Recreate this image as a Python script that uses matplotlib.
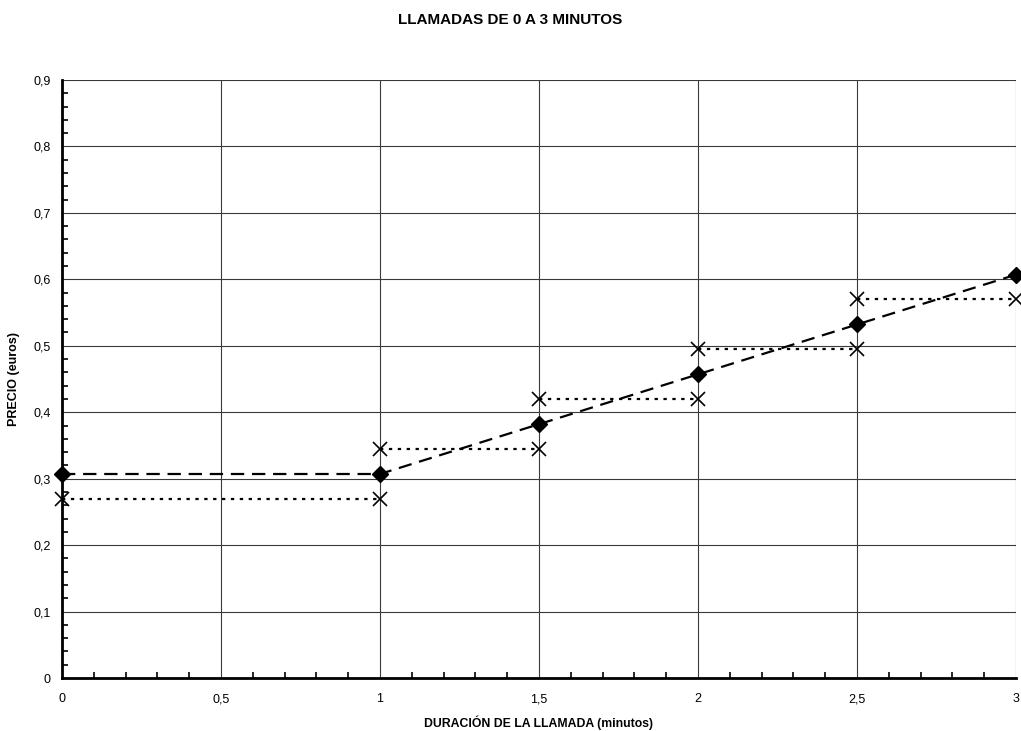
#!/usr/bin/env python3
"""Precio de llamadas de 0 a 3 minutos."""

import matplotlib

matplotlib.use("Agg")
import matplotlib.pyplot as plt
from matplotlib.ticker import FixedLocator, FuncFormatter, MultipleLocator

# tarifa con establecimiento + por segundo (diamantes)
dur_a = [0, 1, 1.5, 2, 2.5, 3]
price_a = [0.307, 0.307, 0.382, 0.457, 0.532, 0.607]

# tarifa por tramos de medio minuto (cruces)
step_start = [0, 1, 1.5, 2, 2.5]
step_end = [1, 1.5, 2, 2.5, 3]
step_price = [0.27, 0.345, 0.42, 0.495, 0.57]

x_ticks = [0, 0.5, 1, 1.5, 2, 2.5, 3]
y_ticks = [0, 0.1, 0.2, 0.3, 0.4, 0.5, 0.6, 0.7, 0.8, 0.9]

plt.rcParams["font.family"] = ["Liberation Sans", "DejaVu Sans"]

fig = plt.figure(figsize=(10.21, 7.31), dpi=100)
ax = fig.add_axes([0.0607, 0.0725, 0.9344, 0.8181])

for xs, xe, p in zip(step_start, step_end, step_price):
    ax.plot([xs, xe], [p, p], color="black", lw=1.6, ls=(0, (1.5, 2.5)),
            marker="x", ms=10, mew=1.2, zorder=3, clip_on=False)

ax.plot(dur_a, price_a, color="black", lw=1.6, ls=(0, (6, 3.5)),
        marker="D", ms=8, zorder=4, clip_on=False)

ax.set_xlim(0, 3)
ax.set_ylim(0, 0.9)
ax.xaxis.set_major_locator(FixedLocator(x_ticks))
ax.yaxis.set_major_locator(FixedLocator(y_ticks))
ax.xaxis.set_minor_locator(MultipleLocator(0.1))
ax.yaxis.set_minor_locator(MultipleLocator(0.02))
fmt = FuncFormatter(lambda v, _: f"{v:g}".replace(".", ","))
ax.xaxis.set_major_formatter(fmt)
ax.yaxis.set_major_formatter(fmt)

ax.grid(True, which="major", color="#3a3a3a", lw=0.8)
ax.set_axisbelow(True)
for side in ("top", "right"):
    ax.spines[side].set_visible(False)
for side in ("left", "bottom"):
    ax.spines[side].set_linewidth(2)

ax.tick_params(which="major", direction="in", length=0, labelsize=9, pad=11)
ax.tick_params(which="minor", direction="in", length=4, width=1.2)
ax.tick_params(axis="y", which="major", pad=8)

ax.set_xlabel("DURACIÓN DE LA LLAMADA (minutos)", fontsize=8.8,
              fontweight="bold", labelpad=7)
ax.set_ylabel("PRECIO (euros)", fontsize=9, fontweight="bold", labelpad=10)
fig.text(0.5, 0.972, "LLAMADAS DE 0 A 3 MINUTOS", ha="center", va="center",
         fontsize=11, fontweight="bold")

fig.savefig("out.png", dpi=100)
